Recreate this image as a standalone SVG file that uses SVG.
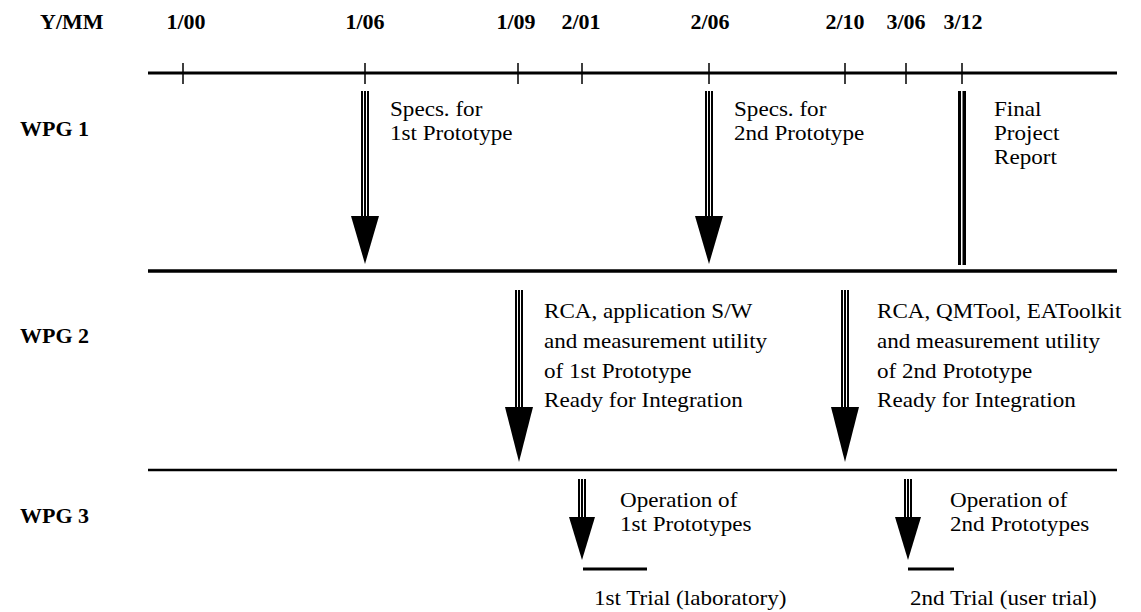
<svg xmlns="http://www.w3.org/2000/svg" width="1141" height="612" viewBox="0 0 1141 612">
<style>
.h{font-family:"Liberation Serif","Times New Roman",serif;font-weight:bold;font-size:22px;fill:#000}
.t{font-family:"Liberation Serif","Times New Roman",serif;font-size:21px;fill:#000}
.ax{stroke:#000;fill:none}
</style>
<rect width="1141" height="612" fill="#fff"/>
<g id="headings">
<text class="h" x="40" y="29">Y/MM</text>
<text class="h" x="186" y="29" text-anchor="middle">1/00</text>
<text class="h" x="365" y="29" text-anchor="middle">1/06</text>
<text class="h" x="516" y="29" text-anchor="middle">1/09</text>
<text class="h" x="581" y="29" text-anchor="middle">2/01</text>
<text class="h" x="710" y="29" text-anchor="middle">2/06</text>
<text class="h" x="845" y="29" text-anchor="middle">2/10</text>
<text class="h" x="906" y="29" text-anchor="middle">3/06</text>
<text class="h" x="963" y="29" text-anchor="middle">3/12</text>
</g>
<g id="axes">
<line class="ax" x1="148" y1="73" x2="1117" y2="73" stroke-width="3"/>
<path class="ax" stroke-width="1.5" d="M183,63V84M365,63V84M518,63V84M582,63V84M709,63V84M845,63V84M906,63V84M962,63V84"/>
<line class="ax" x1="148" y1="271" x2="1117" y2="271" stroke-width="3.5"/>
<line class="ax" x1="148" y1="470" x2="1117" y2="470" stroke-width="2.5"/>
</g>
<g id="wpg1"><text class="h" x="20" y="136">WPG 1</text></g>
<g id="wpg2"><text class="h" x="20" y="343">WPG 2</text></g>
<g id="wpg3"><text class="h" x="20" y="523">WPG 3</text></g>
<g id="connectors">
<g id="arrow-specs1">
<rect x="361" y="91" width="8" height="128" fill="#000"/>
<rect x="363" y="91" width="1" height="128" fill="#fff"/><rect x="366" y="91" width="1" height="128" fill="#fff"/>
<polygon points="351,216 379,216 365,264" fill="#000"/>
</g>
<g id="arrow-specs2">
<rect x="705" y="91" width="8" height="128" fill="#000"/>
<rect x="707" y="91" width="1" height="128" fill="#fff"/><rect x="710" y="91" width="1" height="128" fill="#fff"/>
<polygon points="695,216 723,216 709,264" fill="#000"/>
</g>
<g id="bar-final">
<rect x="958" y="91" width="8" height="174" fill="#000"/>
<rect x="961" y="91" width="1.5" height="174" fill="#fff"/>
</g>
<g id="arrow-wpg2a">
<rect x="515" y="290" width="8" height="118" fill="#000"/>
<rect x="517" y="290" width="1" height="118" fill="#fff"/><rect x="520" y="290" width="1" height="118" fill="#fff"/>
<polygon points="505,407 533,407 519,462" fill="#000"/>
</g>
<g id="arrow-wpg2b">
<rect x="841" y="290" width="8" height="118" fill="#000"/>
<rect x="843" y="290" width="1" height="118" fill="#fff"/><rect x="846" y="290" width="1" height="118" fill="#fff"/>
<polygon points="831,407 859,407 845,462" fill="#000"/>
</g>
<g id="arrow-wpg3a">
<rect x="578" y="479" width="8" height="39" fill="#000"/>
<rect x="580" y="479" width="1" height="39" fill="#fff"/><rect x="583" y="479" width="1" height="39" fill="#fff"/>
<polygon points="569,517 595,517 582,560" fill="#000"/>
</g>
<g id="arrow-wpg3b">
<rect x="904" y="479" width="8" height="39" fill="#000"/>
<rect x="906" y="479" width="1" height="39" fill="#fff"/><rect x="909" y="479" width="1" height="39" fill="#fff"/>
<polygon points="895,517 921,517 908,560" fill="#000"/>
</g>
<line x1="583" y1="569" x2="647" y2="569" stroke="#000" stroke-width="3"/>
<line x1="908" y1="569" x2="954" y2="569" stroke="#000" stroke-width="3"/>
</g>
<g id="label-specs1"><text class="t" transform="translate(390,116) scale(1.1,1)">Specs. for</text><text class="t" transform="translate(390,140) scale(1.1,1)">1st Prototype</text></g>
<g id="label-specs2"><text class="t" transform="translate(734,116) scale(1.1,1)">Specs. for</text><text class="t" transform="translate(734,140) scale(1.1,1)">2nd Prototype</text></g>
<g id="label-final"><text class="t" transform="translate(994,116) scale(1.1,1)">Final</text><text class="t" transform="translate(994,140) scale(1.1,1)">Project</text><text class="t" transform="translate(994,164) scale(1.1,1)">Report</text></g>
<g id="label-wpg2a">
<text class="t" transform="translate(544,318) scale(1.1,1)">RCA, application S/W</text>
<text class="t" transform="translate(544,348) scale(1.1,1)">and measurement utility</text>
<text class="t" transform="translate(544,378) scale(1.1,1)">of 1st Prototype</text>
<text class="t" transform="translate(544,407) scale(1.1,1)">Ready for Integration</text>
</g>
<g id="label-wpg2b">
<text class="t" transform="translate(877,318) scale(1.1,1)">RCA, QMTool, EAToolkit</text>
<text class="t" transform="translate(877,348) scale(1.1,1)">and measurement utility</text>
<text class="t" transform="translate(877,378) scale(1.1,1)">of 2nd Prototype</text>
<text class="t" transform="translate(877,407) scale(1.1,1)">Ready for Integration</text>
</g>
<g id="label-wpg3a"><text class="t" transform="translate(620,507) scale(1.1,1)">Operation of</text><text class="t" transform="translate(620,531) scale(1.1,1)">1st Prototypes</text></g>
<g id="label-wpg3b"><text class="t" transform="translate(950,507) scale(1.1,1)">Operation of</text><text class="t" transform="translate(950,531) scale(1.1,1)">2nd Prototypes</text></g>
<g id="label-trial1"><text class="t" transform="translate(594,605) scale(1.1,1)">1st Trial (laboratory)</text></g>
<g id="label-trial2"><text class="t" transform="translate(910,605) scale(1.1,1)">2nd Trial (user trial)</text></g>
</svg>
